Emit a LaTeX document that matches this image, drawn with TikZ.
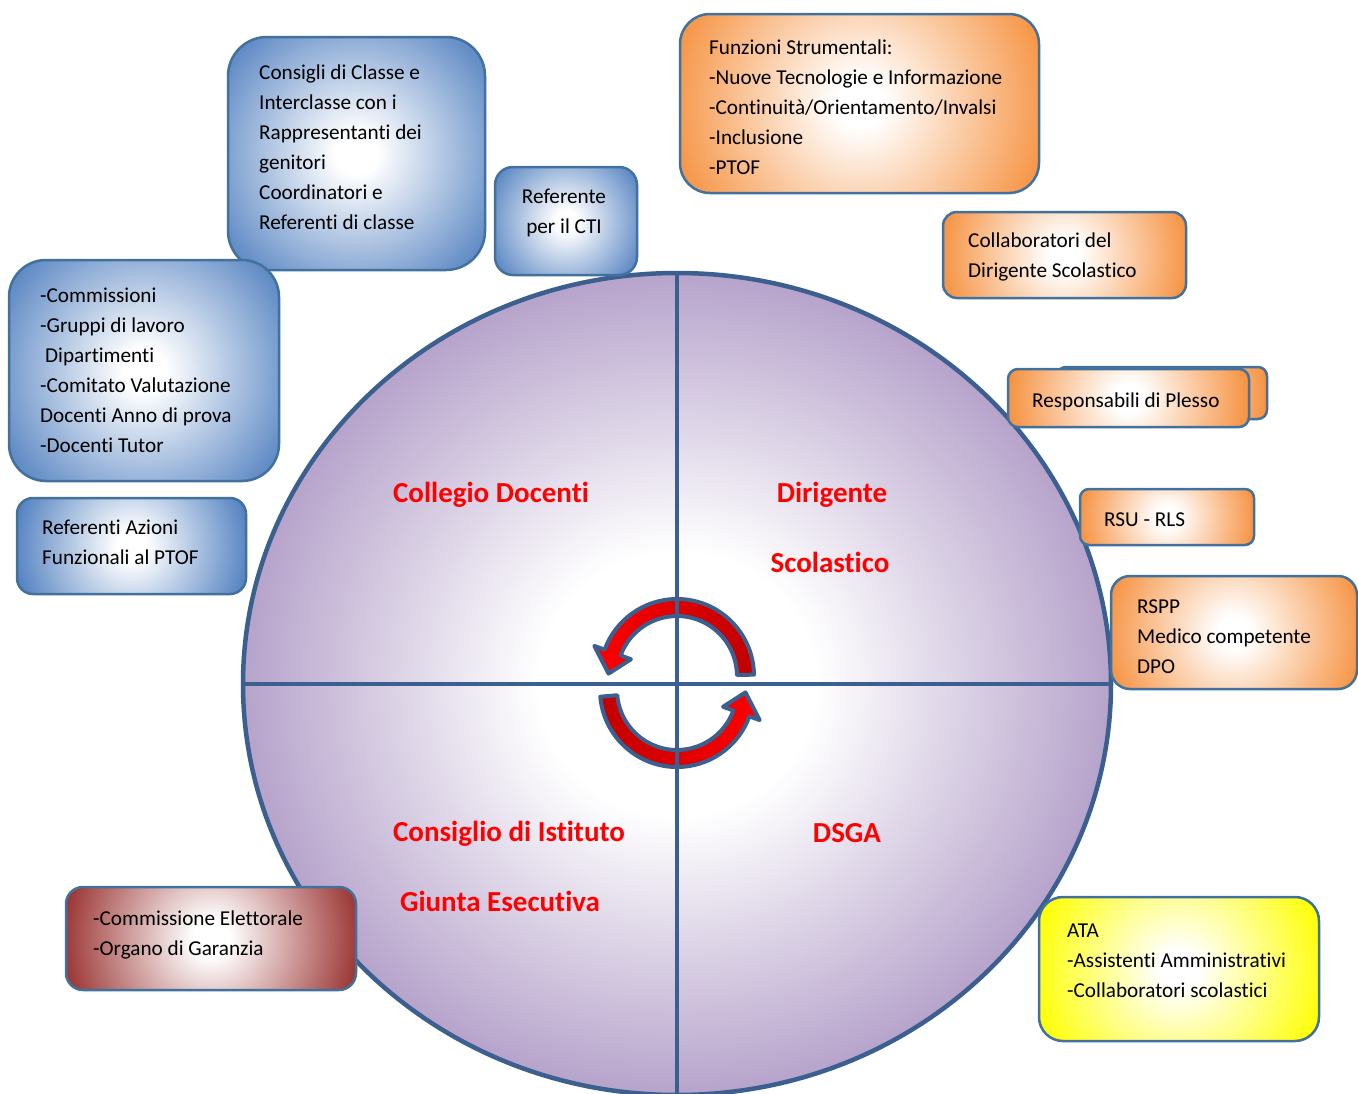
\documentclass[tikz,border=0pt]{standalone}
\usepackage{fontspec}
\setmainfont{Carlito}[Ligatures={CommonOff}]
\usetikzlibrary{calc,shapes.geometric}
\definecolor{boxline}{RGB}{65,113,156}
\definecolor{circline}{RGB}{59,95,142}
\definecolor{blueE}{RGB}{84,130,193}
\definecolor{orangeE}{RGB}{246,148,68}
\definecolor{redE}{RGB}{156,56,54}
\definecolor{yellowE}{RGB}{255,255,0}
\definecolor{purpleE}{RGB}{182,163,203}
\definecolor{arrBright}{RGB}{255,0,0}
\definecolor{arrDark}{RGB}{192,0,0}
\definecolor{labred}{RGB}{255,0,0}
% path bounding box edge corresponds to 25bp
\pgfdeclareradialshading{blueS}{\pgfpoint{0bp}{0bp}}{color(0bp)=(white); color(3bp)=(white); color(24bp)=(blueE); color(50bp)=(blueE)}
\pgfdeclareradialshading{orangeS}{\pgfpoint{0bp}{0bp}}{color(0bp)=(white); color(3bp)=(white); color(24bp)=(orangeE); color(50bp)=(orangeE)}
\pgfdeclareradialshading{redS}{\pgfpoint{0bp}{0bp}}{color(0bp)=(white); color(3bp)=(white); color(24bp)=(redE); color(50bp)=(redE)}
\pgfdeclareradialshading{yellowS}{\pgfpoint{0bp}{0bp}}{color(0bp)=(white); color(3bp)=(white); color(24bp)=(yellowE); color(50bp)=(yellowE)}
\pgfdeclareradialshading{circS}{\pgfpoint{0bp}{0bp}}{color(0bp)=(white); color(8bp)=(white); color(25bp)=(purpleE); color(50bp)=(purpleE)}
\newcommand\boxfont{\fontsize{21.2}{30}\selectfont}
\newcommand\labfont{\fontsize{29}{35}\selectfont\bfseries}
% #1 centre, #2 start angle, #3 base angle, #4 tip angle (visual angles, counter-clockwise)
\newcommand\cyclearrow[5]{%
  \draw[#5] ($(#1)+(-#2:77)$) arc[start angle=#2, end angle=#3, radius=77pt]
    -- ($(#1)+(-#3:88)$) -- ($(#1)+(-#4:68.5)$) -- ($(#1)+(-#3:49)$)
    -- ($(#1)+(-#3:60)$) arc[start angle=#3, end angle=#2, radius=60pt] -- cycle;}
\tikzset{
  gbox/.style={draw=boxline, line width=2.5pt, inner sep=0pt, outer sep=0pt,
    path picture={\shade[shading=#1] let \p1=(path picture bounding box.center),
      \p2=(path picture bounding box.north east) in
      (\p1) circle ({veclen(\x2-\x1,\y2-\y1)});}},
  txt/.style={font=\boxfont, align=left, inner sep=0pt, text=black,
    execute at begin node=\strut, execute at end node=\strut},
  lab/.style={font=\labfont, text=labred, inner sep=0pt},
  crossline/.style={draw=circline, line width=4.5pt},
  arrowshape/.style={draw=circline, line width=4pt, line join=round},
}
\begin{document}
\begin{tikzpicture}[x=1pt,y=-1pt]
\useasboundingbox (0,0) rectangle (1358,1093);
\clip (0,0) rectangle (1358,1093);
\fill[white] (0,0) rectangle (1358,1093);

% main circle
\node[ellipse, shading=circS, draw=circline, line width=4.5pt,
  minimum width=868pt, minimum height=822pt, inner sep=0pt] (circ) at (677,684) {};

% cycle arrows
\coordinate (Ct) at (677,676);
\coordinate (Cb) at (677,690);
\cyclearrow{Ct}{1}{160}{178}{arrowshape, left color=arrBright, right color=arrDark}
\cyclearrow{Cb}{185}{340}{358}{arrowshape, left color=arrDark, right color=arrBright}

% cross lines
\draw[crossline] (circ.west) -- (circ.east);
\draw[crossline] (circ.north) -- (circ.south);

% quadrant labels
\node[lab] (lCD) at (491,495) {Collegio Docenti};
\node[lab] (lDir) at (832,495) {Dirigente};
\node[lab] (lSco) at (830,562) {Scolastico};
\node[lab] (lCI) at (509,834) {Consiglio di Istituto};
\node[lab] (lGE) at (500,901) {Giunta Esecutiva};
\node[lab] (lDS) at (847,833) {DSGA};

% blue boxes
\node[gbox=blueS, minimum width=257pt, minimum height=233pt, rounded corners=39pt] (b1) at (356.5,153.5) {};
\node[txt, anchor=west] (t1) at (259,151.5) {Consigli di Classe e\\Interclasse con i\\Rappresentanti dei\\genitori\\Coordinatori e\\Referenti di classe};

\node[gbox=blueS, minimum width=142pt, minimum height=108pt, rounded corners=18pt] (b2) at (566,221) {};
\node[txt, align=center] (t2) at (564,216) {Referente\\per il CTI};

\node[gbox=blueS, minimum width=270pt, minimum height=221pt, rounded corners=37pt] (b3) at (144,370.5) {};
\node[txt, anchor=west] (t3) at (40,375) {-Commissioni\\-Gruppi di lavoro\\\hspace*{5pt}Dipartimenti\\-Comitato Valutazione\\Docenti Anno di prova\\-Docenti Tutor};

\node[gbox=blueS, minimum width=229pt, minimum height=96pt, rounded corners=16pt] (b4) at (131.5,546) {};
\node[txt, anchor=west] (t4) at (42,547) {Referenti Azioni\\Funzionali al PTOF};

% orange boxes
\node[gbox=orangeS, minimum width=359pt, minimum height=179pt, rounded corners=30pt] (b5) at (859.5,103.5) {};
\node[txt, anchor=west] (t5) at (709,112) {Funzioni Strumentali:\\-Nuove Tecnologie e Informazione\\-Continuità/Orientamento/Invalsi\\-Inclusione\\-PTOF};

\node[gbox=orangeS, minimum width=243pt, minimum height=86pt, rounded corners=14pt] (b6) at (1064.5,255) {};
\node[txt, anchor=west] (t6) at (968,260) {Collaboratori del\\Dirigente Scolastico};

\node[gbox=orangeS, minimum width=210pt, minimum height=52pt, rounded corners=9pt] (b7b) at (1162,393) {};
\node[gbox=orangeS, minimum width=241pt, minimum height=58pt, rounded corners=10pt] (b7) at (1128.5,398) {};
\node[txt, anchor=west] (t7) at (1032,401) {Responsabili di Plesso};

\node[gbox=orangeS, minimum width=174pt, minimum height=56pt, rounded corners=9pt] (b8) at (1167,517) {};
\node[txt, anchor=west] (t8) at (1104,520) {RSU - RLS};

\node[gbox=orangeS, minimum width=246pt, minimum height=113pt, rounded corners=19pt] (b9) at (1234,632.5) {};
\node[txt, anchor=west] (t9) at (1137,641) {RSPP\\Medico competente\\DPO};

% red box
\node[gbox=redS, minimum width=290pt, minimum height=103pt, rounded corners=17pt] (b10) at (211,938.5) {};
\node[txt, anchor=west] (t10) at (93,938) {-Commissione Elettorale\\-Organo di Garanzia};

% yellow box
\node[gbox=yellowS, minimum width=280pt, minimum height=144pt, rounded corners=24pt] (b11) at (1179,969) {};
\node[txt, anchor=west] (t11) at (1067,965) {ATA\\-Assistenti Amministrativi\\-Collaboratori scolastici};
\end{tikzpicture}
\end{document}
